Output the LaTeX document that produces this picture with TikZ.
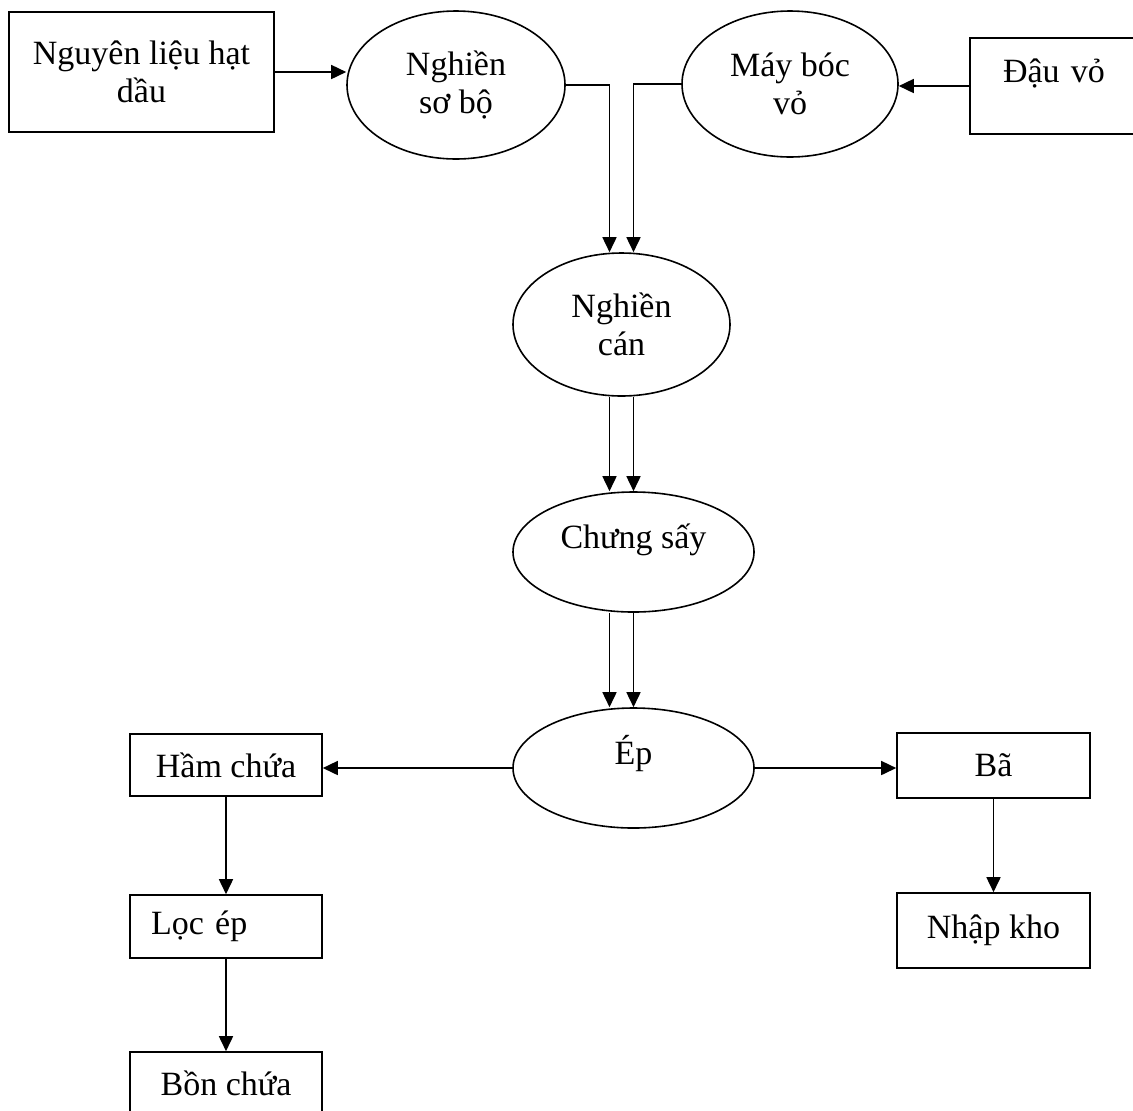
\documentclass[tikz,border=0pt]{standalone}
\usepackage{fontspec}
\setmainfont{Liberation Serif}
\usetikzlibrary{shapes.geometric,arrows.meta}

\tikzset{
  proc/.style={draw, ellipse, line width=0.8pt, inner sep=0pt, align=center},
  store/.style={draw, rectangle, line width=0.8pt, align=center},
  raised/.style={text height=0.7em, text depth=1.05em},
  flow/.style={-{Triangle[length=7.5pt,width=7pt]}, line width=0.8pt},
}

\begin{document}
\begin{tikzpicture}[x=0.5pt, y=-0.5pt, font=\fontsize{17pt}{19pt}\selectfont]
  \clip (0,0) rectangle (1133,1110);

  % top row
  \node[store, minimum width=132.5pt, minimum height=60pt] (raw) at (141.5,72) {Nguyên liệu hạt\\dầu};
  \node[proc, minimum width=109pt, minimum height=74pt] (crush) at (456,85) {Nghiền\\sơ bộ};
  \node[proc, minimum width=108pt, minimum height=73pt] (boc) at (790,84) {Máy bóc\\vỏ};
  \node[store, raised, minimum height=48pt, text width=57pt, inner xsep=16.5pt, align=left] (dau) at (1060,86) {Đậu vỏ};

  % middle column
  \node[proc, minimum width=108.5pt, minimum height=71.5pt] (roll) at (621.5,324.5) {Nghiền\\cán};
  \node[proc, raised, minimum width=120.5pt, minimum height=60pt] (dry) at (633.5,552) {Chưng sấy};
  \node[proc, raised, minimum width=120.5pt, minimum height=60pt] (press) at (633.5,768) {Ép};

  % outputs
  \node[store, minimum width=96pt, minimum height=31pt] (ham) at (226,765) {Hầm chứa};
  \node[store, minimum height=31.5pt, text width=75pt, inner xsep=10.5pt, align=left] (loc) at (226,926.5) {Lọc ép};
  \node[store, minimum width=96pt, minimum height=31.5pt] (bon) at (226,1083.5) {Bồn chứa};
  \node[store, minimum width=96.5pt, minimum height=32.5pt] (ba) at (993.5,765.5) {Bã};
  \node[store, minimum width=96.5pt, minimum height=37.5pt] (kho) at (993.5,930.5) {Nhập kho};

  \draw[flow] (raw.east) -- (raw.east -| crush.west);
  \draw[flow] (dau.west) -- (dau.west -| boc.east);
  \draw[flow] (crush.east) -| ([xshift=-6pt]roll.north);
  \draw[flow] (boc.west) -| ([xshift=6pt]roll.north);

  \foreach \dx in {-6pt, 6pt} {
    \draw[flow] ([xshift=\dx]roll.south) -- ([xshift=\dx]roll.south |- dry.north);
    \draw[flow] ([xshift=\dx]roll.south |- dry.south) -- ([xshift=\dx]roll.south |- press.north);
  }

  \draw[flow] (press.west) -- (press.west -| ham.east);
  \draw[flow] (press.east) -- (press.east -| ba.west);
  \foreach \from/\to in {ham/loc, loc/bon, ba/kho}
    \draw[flow] (\from) -- (\to);
\end{tikzpicture}
\end{document}
